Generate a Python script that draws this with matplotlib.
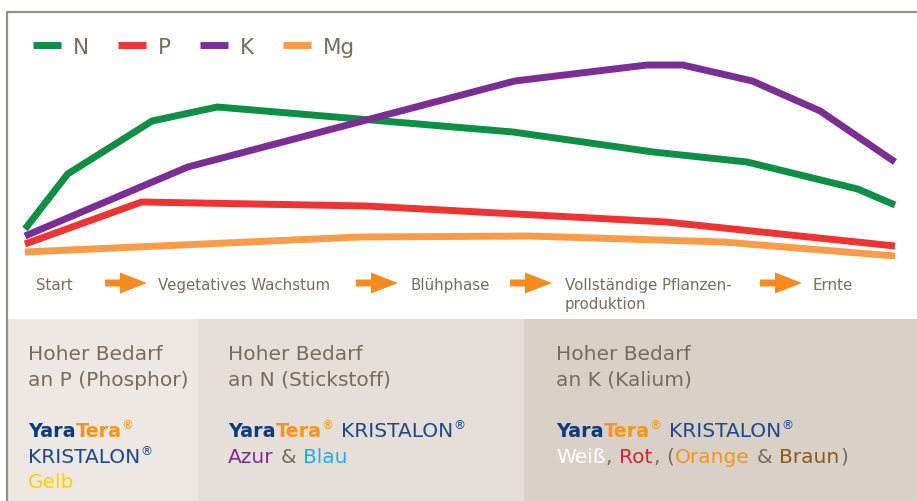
import matplotlib.pyplot as plt
from matplotlib.patches import Rectangle, FancyArrow

# Nährstoffbedarf im Verlauf (relative Einheiten, Zeit 0-100)
n_x = [0, 4.9, 14.6, 22.1, 56.1, 72.2, 83.0, 95.7, 100]
n_y = [15, 42.5, 69, 76, 63.5, 53.5, 48.5, 35, 27]
p_x = [0, 13.4, 39.3, 73.7, 100]
p_y = [7.5, 28.5, 26.5, 18.5, 6.5]
k_x = [0, 18.7, 56.3, 71.5, 75.6, 83.6, 91.4, 100]
k_y = [11.5, 46, 89, 97, 97, 89, 74, 48.5]
mg_x = [0, 38.5, 57.9, 80.3, 100]
mg_y = [3.5, 11, 11.5, 8.5, 1.5]

series = ['N', 'P', 'K', 'Mg']
colors = {'N': '#0f8f45', 'P': '#ee3333', 'K': '#7b2f94', 'Mg': '#f89c4a'}

phases = ['Start', 'Vegetatives Wachstum', 'Blühphase',
          'Vollständige Pflanzen-\nproduktion', 'Ernte']
phase_x = [36, 158, 411, 565, 813]
arrow_x = [105, 356, 510, 760]

panel_head = ['Hoher Bedarf\nan P (Phosphor)', 'Hoher Bedarf\nan N (Stickstoff)',
              'Hoher Bedarf\nan K (Kalium)']

TXT = '#7a6b5c'
DARKBLUE = '#0d3c7a'
BLUE = '#1b4b8c'
ORANGE = '#f7941d'

W, H = 917, 502
fig = plt.figure(figsize=(9.17, 5.02), dpi=100)
ov = fig.add_axes([0, 0, 1, 1])
ov.set_xlim(0, W)
ov.set_ylim(H, 0)
ov.axis('off')

# panels + frame
ov.add_patch(Rectangle((7, 320), 191, 182, color='#ede8e4', lw=0))
ov.add_patch(Rectangle((198, 320), 326, 182, color='#e6dfd9', lw=0))
ov.add_patch(Rectangle((524, 320), 393, 182, color='#d9d0c7', lw=0))
ov.plot([7, 7, W], [H, 13, 13], color='#9a8f84', lw=1.6, solid_joinstyle='miter')

# phases (one text per line so the baseline stays on the first line)
for x, lab in zip(phase_x, phases):
    for i, line in enumerate(lab.split('\n')):
        ov.text(x, 290 + i * 19, line, fontsize=10.8, color=TXT,
                va='baseline', ha='left')
for x in arrow_x:
    ov.add_patch(FancyArrow(x, 284, 42, 0, width=7, head_width=21, head_length=27,
                            length_includes_head=True, color='#f58a1f', lw=0))

# chart
ax = fig.add_axes([25 / W, (H - 260) / H, 870 / W, 200 / H])
ax.set_xlim(0, 100)
ax.set_ylim(0, 100)
ax.axis('off')
ax.patch.set_alpha(0)
data = {'N': (n_x, n_y), 'P': (p_x, p_y), 'K': (k_x, k_y), 'Mg': (mg_x, mg_y)}
zo = {'Mg': 2, 'N': 3, 'P': 5, 'K': 4}
handles = []
for s in series:
    x, y = data[s]
    ln, = ax.plot(x, y, color=colors[s], lw=5, clip_on=False, zorder=zo[s],
                  solid_capstyle='butt', solid_joinstyle='miter')
    handles.append(ln)

ax.legend(handles, series, loc='center left', bbox_to_anchor=(33, 48),
          bbox_transform=ov.transData, ncol=4, frameon=False, fontsize=15.5,
          handlelength=1.3, handletextpad=0.55, columnspacing=1.35,
          borderpad=0, borderaxespad=0, labelcolor=TXT)

# bottom texts
renderer = fig.canvas.get_renderer()
PX = 100 / 72


def runs(x, y, parts, size=14.5):
    for s, c, bold, sup in parts:
        if s == ' ':
            x += size * PX * 0.32
            continue
        fs = size * 0.6 if sup else size
        if bold:
            fs = size * 0.95
        yy = y - size * PX * 0.42 if sup else y
        t = ov.text(x, yy, s, color=c, fontsize=fs, va='baseline', ha='left',
                    fontweight='bold' if bold else 'normal')
        x += t.get_window_extent(renderer).width + (0 if bold else 0.5)
    return x


yara = [('Yara', DARKBLUE, True, False), ('Tera', ORANGE, True, False),
        ('®', ORANGE, False, True)]
krist = [('KRISTALON', BLUE, False, False), ('®', BLUE, False, True)]

for x, head in zip([28, 228, 556], panel_head):
    for i, line in enumerate(head.split('\n')):
        ov.text(x, 360 + i * 26, line, fontsize=14.5, color=TXT,
                va='baseline', ha='left')

runs(28, 437, yara)
runs(28, 463, krist)
runs(28, 488, [('Gelb', '#ffd200', False, False)])

runs(228, 437, yara + [(' ', None, False, False)] + krist)
runs(228, 463, [('Azur', '#7b2d8e', False, False), (' ', None, False, False),
                ('&', TXT, False, False), (' ', None, False, False),
                ('Blau', '#1ab0e8', False, False)])

runs(556, 437, yara + [(' ', None, False, False)] + krist)
runs(556, 463, [('Weiß', 'white', False, False), (',', TXT, False, False),
                (' ', None, False, False), ('Rot', '#d9252f', False, False),
                (',', TXT, False, False), (' ', None, False, False),
                ('(', TXT, False, False), ('Orange', ORANGE, False, False),
                (' ', None, False, False), ('&', TXT, False, False),
                (' ', None, False, False), ('Braun', '#8b5a1b', False, False),
                (')', TXT, False, False)])

fig.savefig('out.png', dpi=100)
